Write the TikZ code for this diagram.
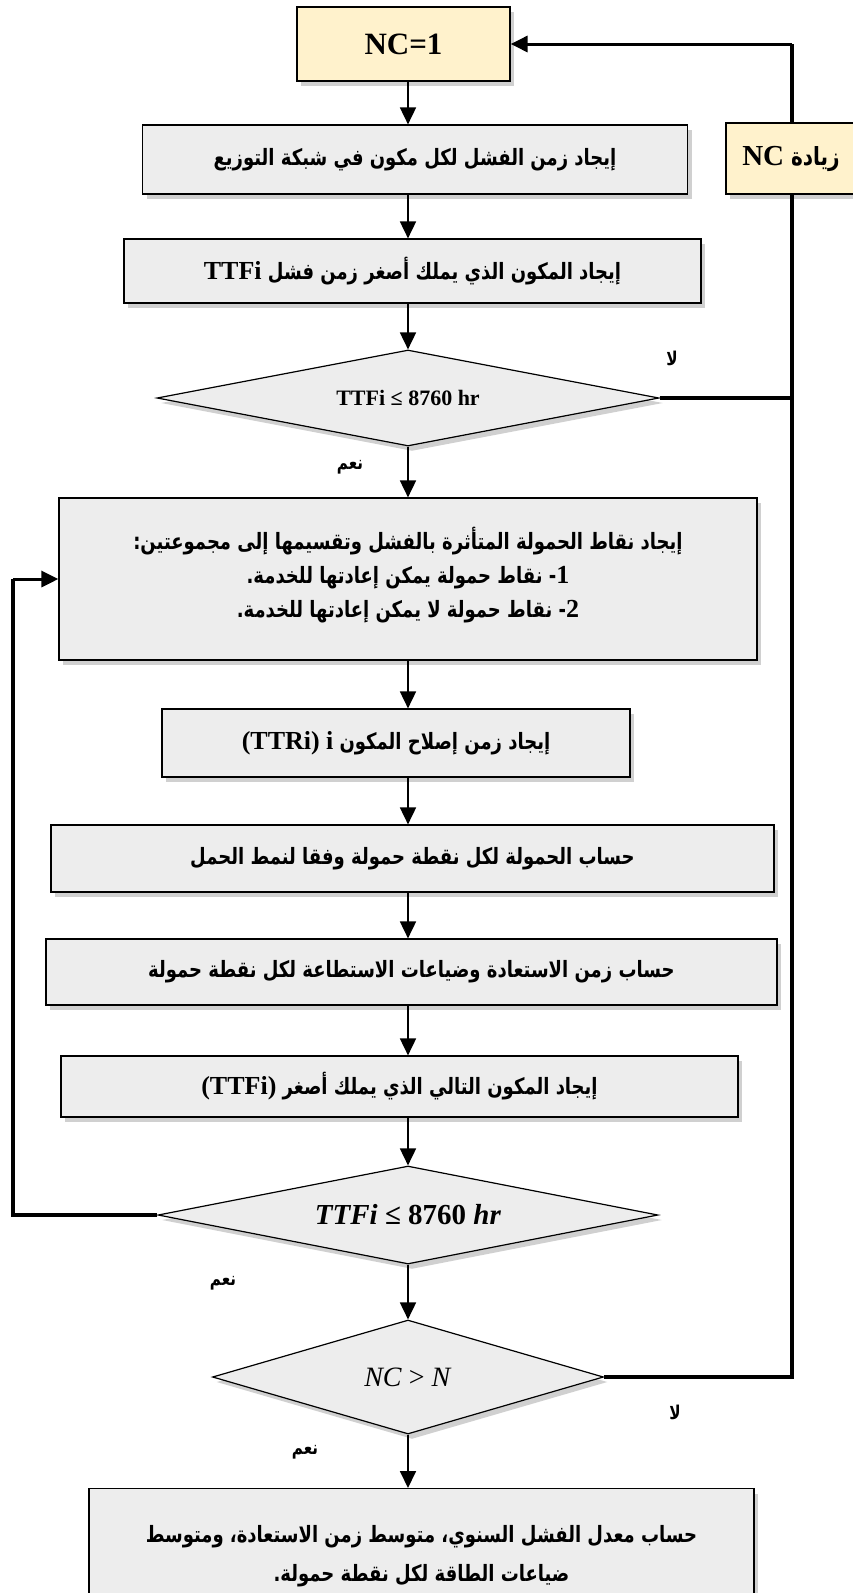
\documentclass[tikz,border=0pt]{standalone}
\usepackage{fontspec}
\setmainfont{Liberation Serif}
\newfontfamily\ar[Script=Arabic,FakeStretch=0.8]{DejaVu Sans}
\newfontfamily\lat{Liberation Serif}
\TeXXeTstate=1
\usetikzlibrary{arrows.meta,shapes.geometric,shadows,calc}
\definecolor{boxgrey}{HTML}{EDEDED}
\definecolor{boxyellow}{HTML}{FFF2CC}
\newcommand{\lt}[1]{\beginL{\lat\bfseries\fontsize{26}{28}\selectfont #1}\endL}
\begin{document}
\begin{tikzpicture}[x=1pt,y=-1pt,
  shad/.style={drop shadow={shadow xshift=4pt,shadow yshift=-5pt,fill=black!60,opacity=0.3}},
  gbox/.style={draw=black,line width=1.2pt,fill=boxgrey,shad,inner sep=2pt,align=center,font=\ar\bfseries\fontsize{22.5}{37}\selectfont},
  ybox/.style={draw=black,line width=1.2pt,fill=boxyellow,shad,inner sep=2pt,align=center},
  dbox/.style={diamond,draw=black,line width=1.2pt,fill=boxgrey,shad,inner sep=0pt},
  arr/.style={line width=1.8pt,-{Triangle[length=17pt,width=16pt]}},
  loopline/.style={line width=3.4pt},
  lbl/.style={font=\ar\bfseries\fontsize{19}{21}\selectfont}
]
\useasboundingbox (0,0) rectangle (853,1593);
\fill[white] (0,0) rectangle (853,1593);

\node[ybox,minimum width=213pt,minimum height=74pt] (nc1) at (403.5,44) {\bfseries\fontsize{31}{34}\selectfont NC=1};
\node[gbox,minimum width=545pt,minimum height=69pt] (b2) at (415,159.5) {\beginR إيجاد زمن الفشل لكل مكون في شبكة التوزيع\endR};
\node[ybox,minimum width=130pt,minimum height=71pt] (inc) at (791,158.5) {\ar\bfseries\fontsize{25}{28}\selectfont\beginR زيادة \beginL{\lat\bfseries\fontsize{29}{30}\selectfont NC}\endL\endR};
\node[gbox,minimum width=577pt,minimum height=64pt] (b3) at (412.5,271) {\beginR إيجاد المكون الذي يملك أصغر زمن فشل \lt{TTFi}\endR};
\node[dbox,aspect=5.23,minimum width=502pt,minimum height=96pt] (d1) at (408,398) {\bfseries\fontsize{22}{24}\selectfont TTFi ≤ 8760 hr};
\node[gbox,minimum width=698pt,minimum height=162pt,font=\ar\bfseries\fontsize{22.5}{34}\selectfont] (b4) at (408,579) {\beginR إيجاد نقاط الحمولة المتأثرة بالفشل وتقسيمها إلى مجموعتين:\endR\\ \beginR \lt{1}- نقاط حمولة يمكن إعادتها للخدمة.\endR\\ \beginR \lt{2}- نقاط حمولة لا يمكن إعادتها للخدمة.\endR\\[-20pt]};
\node[gbox,minimum width=468pt,minimum height=68pt] (b5) at (396,743) {\beginR إيجاد زمن إصلاح المكون \lt{i}{} \lt{(TTRi)}\endR};
\node[gbox,minimum width=723pt,minimum height=67pt] (b6) at (412.5,858.5) {\beginR حساب الحمولة لكل نقطة حمولة وفقا لنمط الحمل\endR};
\node[gbox,minimum width=731pt,minimum height=66pt] (b7) at (411.5,972) {\beginR حساب زمن الاستعادة وضياعات الاستطاعة لكل نقطة حمولة\endR};
\node[gbox,minimum width=677pt,minimum height=61pt] (b8) at (399.5,1086.5) {\beginR إيجاد المكون التالي الذي يملك أصغر \lt{(TTFi)}\endR};
\node[dbox,aspect=5.1,minimum width=500pt,minimum height=98pt] (d2) at (408,1215) {\fontsize{29}{30}\selectfont\textbf{\textit{TTFi} ≤ 8760 \textit{hr}}};
\node[dbox,aspect=3.43,minimum width=391pt,minimum height=114pt] (d3) at (408,1377) {\fontsize{28}{30}\selectfont\textit{NC} > \textit{N}};
\node[gbox,minimum width=665pt,minimum height=150pt,anchor=north,font=\ar\bfseries\fontsize{22.5}{39}\selectfont] (b9) at (421.5,1488) {\beginR حساب معدل الفشل السنوي، متوسط زمن الاستعادة، ومتوسط\endR\\ \beginR ضياعات الطاقة لكل نقطة حمولة.\endR\\[-18pt]};

\coordinate (ax) at (408,0);
\coordinate (rx) at (792,0);
\coordinate (lx) at (13,0);

\draw[arr] (ax |- nc1.south) -- (ax |- b2.north);
\draw[arr] (ax |- b2.south) -- (ax |- b3.north);
\draw[arr] (ax |- b3.south) -- (d1.north);
\draw[arr] (ax |- d1.south) -- (ax |- b4.north);
\draw[arr] (ax |- b4.south) -- (ax |- b5.north);
\draw[arr] (ax |- b5.south) -- (ax |- b6.north);
\draw[arr] (ax |- b6.south) -- (ax |- b7.north);
\draw[arr] (ax |- b7.south) -- (ax |- b8.north);
\draw[arr] (ax |- b8.south) -- (d2.north);
\draw[arr] (d2.south) -- (d3.north);
\draw[arr] (ax |- d3.south) -- (ax |- b9.north);

\draw[loopline] (d3.east) -- (rx |- d3.east) -- (rx |- inc.south);
\draw[loopline] (d1.east) -- (rx |- d1.east);
\draw[loopline] (rx |- inc.north) -- (rx |- nc1.east);
\draw[arr,line width=3pt] (rx |- nc1.east) -- (nc1.east);
\draw[loopline] (d2.west) -- (lx |- d2.west) -- (lx |- b4.west);
\draw[arr,line width=3pt] (lx |- b4.west) -- (b4.west);

\node[lbl] (l1) at (672,358) {\beginR لا\endR};
\node[lbl] (y1) at (350,467) {\beginR نعم\endR};
\node[lbl] (y2) at (223,1283) {\beginR نعم\endR};
\node[lbl] (l2) at (675,1412) {\beginR لا\endR};
\node[lbl] (y3) at (305,1452) {\beginR نعم\endR};
\end{tikzpicture}
\end{document}
